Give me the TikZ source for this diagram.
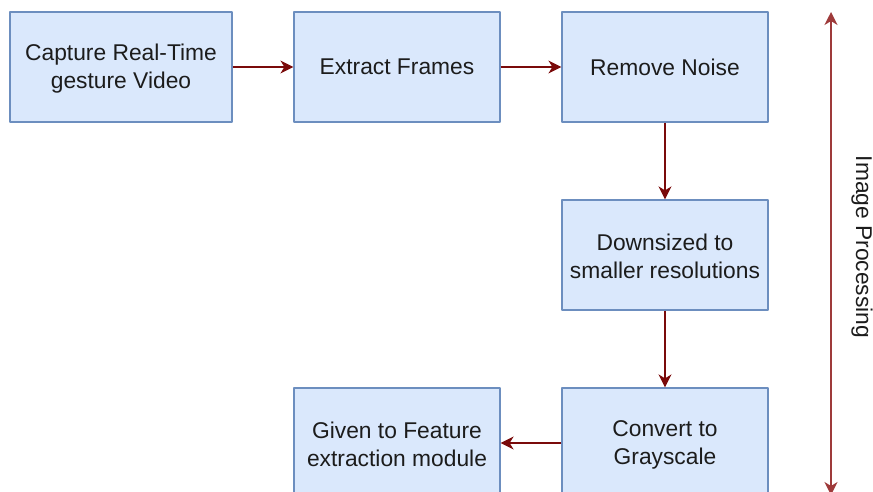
\documentclass[tikz,border=0pt]{standalone}
\usepackage{fontspec}
\setmainfont{Liberation Sans}
\usetikzlibrary{arrows.meta}

\definecolor{boxfill}{HTML}{DAE8FC}
\definecolor{boxline}{HTML}{6C8EBF}
\definecolor{flow}{HTML}{7A0A0A}
\definecolor{span}{HTML}{9E3A3A}
\definecolor{txt}{HTML}{1C1C1C}

\tikzset{
  stage/.style={draw=boxline,line width=1.2pt,fill=boxfill,text=txt,
    minimum width=206pt,minimum height=110pt,inner sep=0pt,align=center,
    font=\fontsize{22.8}{28}\selectfont},
  tip/.tip={Stealth[length=13pt,width=13pt,inset=4pt]},
  flowarrow/.style={draw=flow,line width=1.6pt,-tip}
}

\begin{document}
\begin{tikzpicture}[x=1pt,y=-1pt,line join=round]
\useasboundingbox (0,0) rectangle (873,492);
\clip (0,0) rectangle (873,492);
\coordinate (top) at (831,12);
\coordinate (bot) at (831,495);
\node[stage,minimum width=222pt] (cap) at (121,67) {\strut Capture Real-Time\\gesture Video};
\node[stage] (frames) at (397,67) {Extract Frames};
\node[stage] (noise) at (665,67) {Remove Noise};
\node[stage] (down) at (665,255) {\strut Downsized to\\smaller resolutions};
\node[stage] (gray) at (665,443) {\strut Convert to\\Grayscale};
\node[stage] (feat) at (397,443) {\strut Given to Feature\\extraction module};
\draw[flowarrow] (cap)--(frames);
\draw[flowarrow] (frames)--(noise);
\draw[flowarrow] (noise)--(down);
\draw[flowarrow] (down)--(gray);
\draw[flowarrow] (gray)--(feat);
% span of the image processing steps
\draw[draw=span,line width=1.6pt,tip-tip] (top)--(bot);
\node[rotate=-90,text=txt,font=\fontsize{22.8}{28}\selectfont] (lbl) at (862,247) {Image Processing};
\end{tikzpicture}
\end{document}
